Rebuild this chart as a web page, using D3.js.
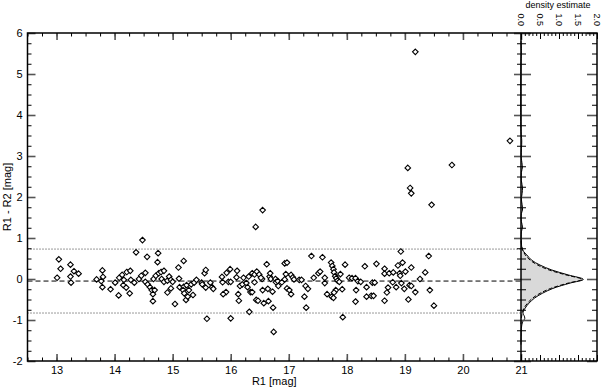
<!DOCTYPE html>
<html>
<head>
<meta charset="utf-8">
<script src="https://cdn.jsdelivr.net/npm/d3@7"></script>
<style>
  body { margin: 0; background: #fff; }
  svg { display: block; font-family: "Liberation Sans", Arial, Helvetica, sans-serif; }
</style>
</head>
<body>
<script>
var width = 603;
var height = 388;

// R1 magnitudes and R1 - R2 differences
var r1 = [13.04, 13.07, 13.01, 13.24, 13.30, 13.38, 13.24, 13.25, 14.48, 14.37, 14.56, 14.75, 14.74,
  13.79, 13.80, 13.69, 13.77, 13.79, 13.93, 14.01, 14.07, 14.08, 14.13, 14.16, 14.21, 14.27, 14.15,
  14.20, 14.26, 14.28, 14.34, 14.42, 14.46, 14.53, 14.53, 14.57, 14.61, 14.64, 14.69, 14.66, 14.66,
  14.67, 14.71, 14.76, 14.80, 14.85, 14.81, 14.85, 14.91, 14.94, 14.97, 15.00, 14.97, 14.91, 15.04,
  15.10, 15.19, 15.11, 15.12, 15.19, 15.18, 15.20, 15.24, 15.23, 15.26, 15.28, 15.35, 15.32, 15.37,
  15.41, 15.55, 15.57, 15.50, 15.51, 15.57, 15.65, 15.68, 15.70, 15.59, 15.85, 15.86, 15.93, 15.99,
  15.96, 16.00, 15.92, 15.87, 16.00, 16.10, 16.13, 16.14, 16.16, 16.11,
  16.22, 16.20, 16.27, 16.29, 16.31, 16.34, 16.37, 16.37, 16.41, 16.41, 16.45, 16.49, 16.54, 16.52,
  16.32, 16.44, 16.47, 16.55, 16.57, 16.62, 16.65, 16.64, 16.67, 16.68, 16.69, 16.72, 16.73, 16.74,
  16.77, 16.78, 16.81, 16.82, 16.88, 16.93, 16.97, 16.95, 16.93, 16.97, 17.01, 17.04, 17.04, 17.07,
  17.09, 17.18, 17.22, 17.29, 17.33, 17.27, 17.30, 17.39, 17.43, 17.51, 17.54, 17.58, 17.62, 17.62,
  17.66, 17.73, 17.75, 17.77, 17.78, 17.80, 17.82, 17.84, 17.89, 17.87, 17.81, 17.78, 17.74, 17.77,
  17.92, 17.93, 17.97, 18.04, 18.09, 18.15, 18.19, 18.24, 18.16, 18.15, 18.31, 18.34, 18.34, 18.42,
  18.46, 18.44, 18.48, 18.51, 18.65, 18.65, 18.71, 18.69, 18.65, 18.73, 18.80, 18.79, 18.85, 18.88,
  18.93, 18.96, 18.91, 18.92, 18.94, 19.01, 18.99, 19.06, 19.08, 19.11, 19.11, 19.18, 19.26, 19.35,
  19.41, 19.43, 19.50,
  16.55, 16.43, 19.18, 19.05, 19.81, 19.09, 19.11, 19.46, 20.81];
var dR = [0.48, 0.25, 0.03, 0.35, 0.19, 0.13, 0.06, -0.09, 0.95, 0.65, 0.54, 0.63, 0.41,
  0.21, 0.05, -0.01, -0.05, -0.20, -0.25, -0.09, -0.40, 0.03, 0.10, -0.02, 0.17, 0.20, -0.15,
  -0.21, -0.35, -0.02, -0.09, 0.00, 0.08, 0.15, -0.07, -0.13, -0.20, -0.27, -0.27, -0.37, -0.54,
  0.00, 0.08, 0.14, 0.17, 0.20, 0.00, -0.07, -0.04, 0.06, -0.02, -0.07, -0.23, -0.33, -0.61,
  0.28, 0.44, 0.01, -0.20, -0.19, -0.27, -0.35, -0.15, -0.51, -0.43, -0.27, -0.39, -0.13, -0.09,
  -0.02, 0.14, 0.22, -0.09, -0.13, -0.21, -0.09, -0.20, -0.24, -0.97, 0.05, -0.08, 0.15, 0.24,
  -0.07, -0.07, -0.32, -0.37, -0.96, 0.04, -0.37, -0.53, -0.17, 0.20,
  0.03, -0.13, -0.10, -0.20, 0.06, -0.32, -0.32, 0.14, 0.11, -0.08, 0.18, 0.11, 0.00, 0.03,
  -0.80, -0.51, -0.53, -0.27, -0.59, 0.36, -0.54, -0.24, 0.06, 0.14, 0.00, -0.31, -0.70, -1.29,
  0.00, -0.08, -0.05, -0.17, -0.08, 0.38, 0.40, 0.12, -0.01, -0.23, -0.27, 0.10, -0.37, 0.04,
  -0.01, -0.02, -0.02, -0.17, -0.24, -0.43, -0.70, 0.56, 0.03, 0.14, 0.18, 0.53, 0.03, -0.10,
  -0.37, 0.40, 0.32, 0.24, 0.16, 0.07, 0.02, -0.04, 0.12, -0.07, -0.27, -0.33, -0.43, -0.46,
  -0.25, -0.93, 0.35, 0.03, 0.02, 0.02, -0.05, -0.07, -0.27, -0.55, 0.31, -0.20, -0.43, -0.41,
  -0.41, -0.09, -0.09, 0.37, 0.25, 0.13, -0.21, -0.33, -0.53, 0.14, 0.16, -0.08, -0.20, 0.33,
  0.67, 0.40, 0.14, 0.08, -0.10, 0.18, -0.24, -0.50, -0.15, 0.28, -0.17, -0.32, 0.00, 0.16,
  0.56, -0.27, -0.65,
  1.68, 1.27, 5.54, 2.71, 2.78, 2.22, 2.09, 1.81, 3.37];

// horizontal reference levels
var offsetLevel = -0.05;
var lowerLevel = -0.83;
var upperLevel = 0.73;

// density estimate: [R1 - R2, density]
var densSolid = [[-1.6, 0], [-1.4, 0.005], [-1.2, 0.01], [-1.05, 0.04], [-0.96, 0.1], [-0.89, 0.08],
  [-0.83, 0.05], [-0.71, 0.11], [-0.59, 0.21], [-0.47, 0.35], [-0.35, 0.56], [-0.23, 0.84],
  [-0.10, 1.29], [-0.01, 1.64], [0.10, 1.24], [0.22, 0.81], [0.34, 0.50], [0.46, 0.28],
  [0.59, 0.15], [0.67, 0.07], [0.73, 0.03], [0.9, 0.01], [1.15, 0.01], [1.27, 0.04], [1.4, 0.01],
  [1.6, 0.01], [1.68, 0.04], [1.81, 0.03], [1.95, 0.01], [2.09, 0.03], [2.22, 0.04], [2.4, 0.01],
  [2.6, 0.01], [2.73, 0.04], [2.8, 0.03], [3.0, 0.005], [3.37, 0.02], [3.6, 0], [5.3, 0],
  [5.54, 0.01], [5.8, 0]];
var densGauss = [[-1.1, 0], [-0.95, 0.01], [-0.84, 0.03], [-0.71, 0.08], [-0.59, 0.17], [-0.47, 0.3],
  [-0.35, 0.5], [-0.23, 0.78], [-0.10, 1.24], [-0.01, 1.6], [0.10, 1.18], [0.22, 0.74],
  [0.34, 0.44], [0.46, 0.24], [0.59, 0.11], [0.70, 0.05], [0.85, 0.01], [1.0, 0]];

var xMajor = d3.range(13, 21.01, 1);
var xMinor = d3.range(12.5, 21.01, 0.25);
var yMajor = d3.range(-2, 6.01, 1);
var yMinor = d3.range(-2, 6.01, 0.25);
var dMajor = [0, 0.5, 1, 1.5, 2];
var dMinor = d3.range(0, 2.001, 0.1);

var x = d3.scaleLinear().domain([12.5, 21]).range([27.5, 521]);
var y = d3.scaleLinear().domain([-2, 6]).range([361, 33]);
var xd = d3.scaleLinear().domain([0, 2]).range([521, 597]);

var svg = d3.select("body").append("svg")
  .attr("width", width)
  .attr("height", height);

function drawAxis(axis, tx, ty, major) {
  var g = svg.append("g")
    .attr("transform", "translate(" + tx + "," + ty + ")")
    .call(axis);
  g.select(".domain").remove();
  g.selectAll("line")
    .attr("stroke", major ? "#555" : "#000")
    .attr("stroke-width", major ? 1.6 : 1);
  g.selectAll("text").attr("fill", "#000").style("font-size", "11px");
  return g;
}

// density fill between the dotted levels
var inBand = densSolid.filter(function(d) { return d[0] >= lowerLevel && d[0] <= upperLevel; });
svg.append("path")
  .datum(inBand)
  .attr("fill", "#d9d9d9")
  .attr("d", d3.area()
    .curve(d3.curveCatmullRom)
    .y(function(d) { return y(d[0]); })
    .x0(xd(0))
    .x1(function(d) { return xd(d[1]); }));

svg.append("path")
  .datum(densGauss)
  .attr("fill", "none")
  .attr("stroke", "#000")
  .attr("stroke-width", 1)
  .attr("stroke-dasharray", "4,2")
  .attr("d", d3.line()
    .curve(d3.curveCatmullRom)
    .x(function(d) { return xd(d[1]); })
    .y(function(d) { return y(d[0]); }));

svg.append("path")
  .datum(densSolid)
  .attr("fill", "none")
  .attr("stroke", "#000")
  .attr("stroke-width", 1)
  .attr("d", d3.line()
    .curve(d3.curveCatmullRom)
    .x(function(d) { return xd(d[1]); })
    .y(function(d) { return y(d[0]); }));

// reference lines
svg.append("line")
  .attr("x1", x(12.5)).attr("x2", x(21))
  .attr("y1", y(offsetLevel)).attr("y2", y(offsetLevel))
  .attr("stroke", "#000").attr("stroke-width", 1)
  .attr("stroke-dasharray", "5,3");
[lowerLevel, upperLevel].forEach(function(v) {
  svg.append("line")
    .attr("x1", x(12.5)).attr("x2", x(21))
    .attr("y1", y(v)).attr("y2", y(v))
    .attr("stroke", "#333").attr("stroke-width", 1)
    .attr("stroke-dasharray", "1,2");
});

// points
var points = r1.map(function(v, i) { return [v, dR[i]]; });
svg.append("g").selectAll("path")
  .data(points)
  .enter().append("path")
  .attr("transform", function(d) { return "translate(" + x(d[0]) + "," + y(d[1]) + ")"; })
  .attr("d", d3.symbol().type(d3.symbolDiamond2).size(20))
  .attr("fill", "#fff")
  .attr("stroke", "#000")
  .attr("stroke-width", 1.1);

// main plot axes
drawAxis(d3.axisBottom(x).tickValues(xMinor).tickSize(-3.5).tickFormat(""), 0, 361, false);
drawAxis(d3.axisBottom(x).tickValues(xMajor).tickSize(-7).tickPadding(5).tickFormat(String), 0, 361, true);
drawAxis(d3.axisTop(x).tickValues(xMinor).tickSize(-3.5).tickFormat(""), 0, 33, false);
drawAxis(d3.axisTop(x).tickValues(xMajor).tickSize(-7).tickFormat(""), 0, 33, true);
drawAxis(d3.axisLeft(y).tickValues(yMinor).tickSize(-4).tickFormat(""), 27.5, 0, false);
drawAxis(d3.axisLeft(y).tickValues(yMajor).tickSize(-8).tickPadding(5).tickFormat(String), 27.5, 0, true);
drawAxis(d3.axisRight(y).tickValues(yMinor).tickSize(-4).tickFormat(""), 521, 0, false);
drawAxis(d3.axisRight(y).tickValues(yMajor).tickSize(-7).tickFormat(""), 521, 0, true);

// density panel axes
drawAxis(d3.axisRight(y).tickValues(yMinor).tickSize(5).tickFormat(""), 521, 0, false);
drawAxis(d3.axisRight(y).tickValues(yMajor).tickSize(10).tickFormat(""), 521, 0, true);
drawAxis(d3.axisLeft(y).tickValues(yMinor).tickSize(5).tickFormat(""), 597, 0, false);
drawAxis(d3.axisLeft(y).tickValues(yMajor).tickSize(10).tickFormat(""), 597, 0, true);
drawAxis(d3.axisBottom(xd).tickValues(dMinor).tickSize(-3).tickFormat(""), 0, 361, false);
drawAxis(d3.axisBottom(xd).tickValues(dMajor).tickSize(-6).tickFormat(""), 0, 361, false);
drawAxis(d3.axisTop(xd).tickValues(dMinor).tickSize(-3).tickFormat(""), 0, 33, false);
var topD = drawAxis(d3.axisTop(xd).tickValues(dMajor).tickSize(-6).tickFormat(d3.format(".1f")), 0, 33, false);
topD.selectAll("text")
  .attr("y", null).attr("dy", "0.35em")
  .attr("x", -7)
  .attr("text-anchor", "end")
  .attr("transform", "rotate(90)")
  .style("font-size", "9px");

// frame
svg.append("rect")
  .attr("x", 27.5).attr("y", 33)
  .attr("width", 597 - 27.5).attr("height", 361 - 33)
  .attr("fill", "none").attr("stroke", "#000").attr("stroke-width", 1.5);
svg.append("line")
  .attr("x1", 521).attr("x2", 521).attr("y1", 33).attr("y2", 361)
  .attr("stroke", "#000").attr("stroke-width", 1.5);

// titles
svg.append("text")
  .attr("x", (27.5 + 521) / 2).attr("y", 385)
  .attr("text-anchor", "middle")
  .style("font-size", "11px")
  .text("R1 [mag]");
svg.append("text")
  .attr("transform", "translate(11," + ((33 + 361) / 2) + ") rotate(-90)")
  .attr("text-anchor", "middle")
  .style("font-size", "11px")
  .text("R1 - R2 [mag]");
svg.append("text")
  .attr("x", 558).attr("y", 8)
  .attr("text-anchor", "middle")
  .style("font-size", "9px")
  .text("density estimate");
</script>
</body>
</html>
